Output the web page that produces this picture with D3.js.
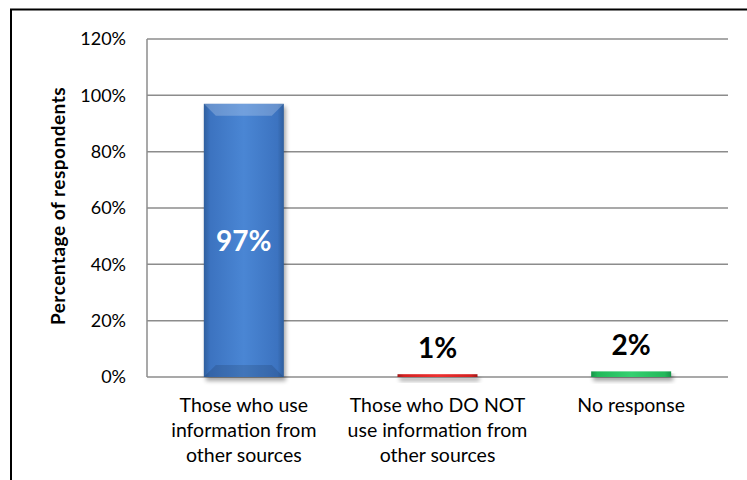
<!DOCTYPE html>
<html><head><meta charset="utf-8">
<script src="https://cdn.jsdelivr.net/npm/d3@7"></script>
<style>body{margin:0;background:#fff}svg{display:block}</style>
</head><body><svg id="c" width="747" height="480"></svg>
<script>
const categories = [
  ["Those who use","information from","other sources"],
  ["Those who DO NOT","use information from","other sources"],
  ["No response"]
];
const values = [97, 1, 2];
const labels = ["97%", "1%", "2%"];
const barColors = [["#2f5f9e","#4a86d4","#3c73c0"],["#a01818","#ee3030","#d42222"],["#17944a","#34d070","#22b85a"]];
const yTicks = [0,20,40,60,80,100,120];

const svg = d3.select("#c");
const font = "Lato, 'Open Sans', sans-serif";
svg.append("rect").attr("x",11).attr("y",9.5).attr("width",760).attr("height",500)
  .attr("fill","none").attr("stroke","#000").attr("stroke-width",2);

const L=147, R=728, T=39, B=377;
const x = d3.scaleBand().domain(d3.range(categories.length)).range([L,R]);
const y = d3.scaleLinear().domain([0,120]).range([B,T]);

const defs = svg.append("defs");
barColors.forEach((c,i)=>{
  const g = defs.append("linearGradient").attr("id","g"+i).attr("x1","0").attr("x2","1").attr("y1","0").attr("y2","0");
  g.append("stop").attr("offset","0").attr("stop-color",c[0]);
  g.append("stop").attr("offset","0.08").attr("stop-color",c[2]);
  g.append("stop").attr("offset","0.5").attr("stop-color",c[1]);
  g.append("stop").attr("offset","0.92").attr("stop-color",c[2]);
  g.append("stop").attr("offset","1").attr("stop-color",c[0]);
});
const blur = defs.append("filter").attr("id","sh").attr("x","-20%").attr("y","-20%").attr("width","140%").attr("height","160%");
blur.append("feGaussianBlur").attr("stdDeviation",2);

// gridlines
svg.append("g").selectAll("line").data(yTicks).join("line")
  .attr("x1",L).attr("x2",R).attr("y1",d=>y(d)).attr("y2",d=>y(d))
  .attr("stroke","#8c8c8c").attr("stroke-width",1.5);
svg.append("line").attr("x1",L).attr("x2",L).attr("y1",T).attr("y2",B).attr("stroke","#8c8c8c").attr("stroke-width",1.5);

// y axis
const yAxis = d3.axisLeft(y).tickValues(yTicks).tickFormat(d=>d+"%").tickSize(0).tickPadding(21);
const ya = svg.append("g").attr("transform",`translate(${L},0)`).call(yAxis);
ya.select(".domain").remove();
ya.selectAll("text").attr("font-family",font).attr("font-size",18).attr("fill","#000");

svg.append("text").attr("transform",`translate(65,${206}) rotate(-90)`)
  .attr("text-anchor","middle").attr("font-family",font).attr("font-weight","bold").attr("font-size",19)
  .attr("letter-spacing",0.5)
  .text("Percentage of respondents");

const bw = 80;
const bars = svg.append("g");
values.forEach((v,i)=>{
  const cx = x(i)+x.bandwidth()/2, x0 = cx-bw/2, y0 = y(v), h = B-y0;
  bars.append("rect").attr("x",x0+2).attr("y",y0+3).attr("width",bw).attr("height",h+1)
    .attr("fill","#000").attr("opacity",0.35).attr("filter","url(#sh)");
  bars.append("rect").attr("x",x0).attr("y",y0).attr("width",bw).attr("height",h).attr("fill",`url(#g${i})`);
  if (h>20){
    const b=12;
    bars.append("path").attr("d",`M${x0},${y0}L${x0+bw},${y0}L${x0+bw-b},${y0+b}L${x0+b},${y0+b}Z`).attr("fill","#fff").attr("opacity",0.22);
    bars.append("path").attr("d",`M${x0},${B}L${x0+bw},${B}L${x0+bw-b},${B-b}L${x0+b},${B-b}Z`).attr("fill","#000").attr("opacity",0.12);
  }
});

// value labels
svg.append("g").selectAll("text").data(values).join("text")
  .attr("x",(d,i)=>x(i)+x.bandwidth()/2)
  .attr("y",d=> d>50 ? y(d/2)+11 : y(d)-16.5)
  .attr("text-anchor","middle").attr("font-family",font).attr("font-weight","bold").attr("font-size",28)
  .attr("fill",d=>d>50?"#fff":"#000").text((d,i)=>labels[i]);

// category labels
const cat = svg.append("g");
categories.forEach((lines,i)=>{
  const t = cat.append("text").attr("x",x(i)+x.bandwidth()/2).attr("y",412)
    .attr("text-anchor","middle").attr("font-family",font).attr("font-size",19.5);
  lines.forEach((l,j)=>t.append("tspan").attr("x",x(i)+x.bandwidth()/2).attr("dy",j?25:0).text(l));
});
</script></body></html>
